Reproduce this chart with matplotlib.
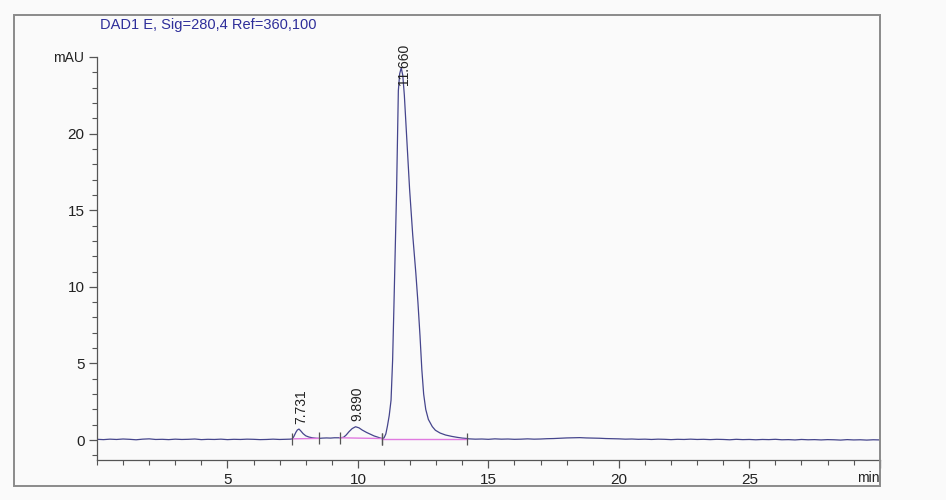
import numpy as np
import matplotlib.pyplot as plt
from matplotlib.ticker import MultipleLocator
from matplotlib.patches import Rectangle

plt.rcParams['font.family'] = ['Liberation Sans', 'DejaVu Sans']

# baseline before the peaks (0 - 7.25 min, every 0.25 min)
pre_t = np.arange(0.0, 7.26, 0.25)
pre_y = [0.05, 0.03, 0.06, 0.04, 0.07, 0.05, 0.02, 0.06, 0.08, 0.04,
         0.05, 0.03, 0.06, 0.04, 0.05, 0.07, 0.03, 0.05, 0.04, 0.06,
         0.03, 0.05, 0.04, 0.06, 0.05, 0.03, 0.04, 0.06, 0.04, 0.05]

# peak region
peak_t = [7.40, 7.49, 7.55, 7.62, 7.68, 7.74, 7.80, 7.90, 8.00, 8.12,
          8.25, 8.40, 8.50, 8.65, 8.80, 8.95, 9.10, 9.31, 9.45, 9.55,
          9.66, 9.78, 9.91, 10.04, 10.17, 10.33, 10.49, 10.62, 10.74, 10.85,
          10.93, 11.00, 11.07, 11.13, 11.20, 11.27, 11.33, 11.38, 11.43, 11.48,
          11.55, 11.60, 11.66, 11.72, 11.78, 11.88, 11.98, 12.10, 12.22, 12.30,
          12.38, 12.45, 12.52, 12.60, 12.70, 12.85, 12.97, 13.15, 13.36, 13.60,
          13.80, 14.00, 14.20]
peak_y = [0.06, 0.08, 0.25, 0.50, 0.66, 0.72, 0.62, 0.42, 0.28, 0.20,
          0.15, 0.12, 0.11, 0.13, 0.14, 0.13, 0.15, 0.15, 0.18, 0.33,
          0.55, 0.75, 0.87, 0.80, 0.65, 0.50, 0.37, 0.27, 0.20, 0.14,
          0.10, 0.14, 0.40, 0.90, 1.60, 2.60, 5.20, 8.70, 12.5, 16.1,
          22.8, 23.9, 24.3, 23.8, 22.5, 19.5, 16.4, 13.4, 10.9, 9.0,
          6.8, 4.6, 3.0, 2.0, 1.35, 0.88, 0.64, 0.46, 0.33, 0.24,
          0.18, 0.13, 0.10]

# baseline after the peaks (14.25 - 30 min, every 0.25 min)
post_t = np.arange(14.25, 30.01, 0.25)
post_y = [0.08, 0.06, 0.07, 0.05, 0.08, 0.06, 0.07, 0.05, 0.06, 0.08,
          0.06, 0.07, 0.09, 0.10, 0.12, 0.14, 0.15, 0.16, 0.14, 0.13,
          0.12, 0.10, 0.09, 0.08, 0.06, 0.07, 0.05, 0.06, 0.04, 0.06,
          0.05, 0.03, 0.05, 0.04, 0.06, 0.04, 0.05, 0.03, 0.05, 0.04,
          0.02, 0.05, 0.03, 0.04, 0.02, 0.04, 0.03, 0.05, 0.02, 0.03,
          0.01, 0.04, 0.02, 0.03, 0.01, 0.03, 0.02, 0.00, 0.03, 0.01,
          0.02, 0.00, 0.02, 0.01]

# integration events
peak_rt = [7.731, 9.890, 11.660]
peak_h = [0.72, 0.87, 24.3]
bl_start_t = [7.49, 9.31, 10.93]
bl_start_y = [0.08, 0.15, 0.10]
bl_end_t = [8.50, 10.93, 14.20]
bl_end_y = [0.11, 0.10, 0.10]

t = np.concatenate([pre_t, peak_t, post_t])
y = np.concatenate([pre_y, peak_y, post_y])

sig = '#45458c'
fig = plt.figure(figsize=(9.46, 5.0), dpi=100, facecolor='#fafafa')
ax = fig.add_axes([0.1025, 0.08, 0.8275, 0.806])
ax.set_facecolor('#fafafa')

ax.plot(t, y, color=sig, lw=0.9)
for i in range(len(bl_start_t)):
    ax.plot([bl_start_t[i], bl_end_t[i]], [bl_start_y[i], bl_end_y[i]],
            color='#e07ae0', lw=1.0)
ax.plot(bl_start_t + bl_end_t, bl_start_y + bl_end_y, '|', color='#555',
        ms=9, mew=0.9)

for rt, h in zip(peak_rt, peak_h):
    ax.text(rt + 0.1, min(h + 0.35, 23.2), '%.3f' % rt, rotation=90,
            ha='center', va='bottom', fontsize=10, color='#222')

ax.set_xlim(0, 30)
ax.set_ylim(-1.3, 25)
ax.spines['top'].set_visible(False)
ax.spines['right'].set_visible(False)
for s in ['left', 'bottom']:
    ax.spines[s].set_color('#555')
    ax.spines[s].set_linewidth(0.9)

ax.set_xticks([5, 10, 15, 20, 25, 30])
ax.set_xticklabels(['5', '10', '15', '20', '25', ''])
ax.xaxis.set_minor_locator(MultipleLocator(1))
ax.set_yticks([0, 5, 10, 15, 20, 25])
ax.set_yticklabels(['0', '5', '10', '15', '20', 'mAU'])
ax.yaxis.set_minor_locator(MultipleLocator(1))
ax.tick_params(which='major', length=6, width=0.9, color='#555',
               labelsize=11, labelcolor='#222', pad=3)
ax.tick_params(which='minor', length=3.5, width=0.8, color='#555')
ax.get_yticklabels()[-1].set_fontsize(10)
ax.annotate('min', xy=(30, 0), xycoords=('data', 'axes fraction'),
            xytext=(0, -13), textcoords='offset points',
            ha='right', va='center', fontsize=10, color='#222')

fig.add_artist(Rectangle((0.0148, 0.028), 0.9155, 0.942, transform=fig.transFigure,
                         fill=False, edgecolor='#8a8a8a', lw=1.4))
fig.text(0.1057, 0.95, 'DAD1 E, Sig=280,4 Ref=360,100', color='#2e2e9a',
         fontsize=10.5, va='center', ha='left')

fig.savefig('out.png', dpi=100, facecolor=fig.get_facecolor())
